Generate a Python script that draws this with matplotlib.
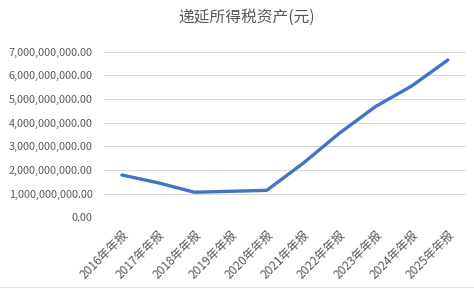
import matplotlib
matplotlib.use("Agg")
import matplotlib.pyplot as plt
from matplotlib.ticker import FuncFormatter

plt.rcParams['font.family'] = ['Noto Sans CJK SC', 'DejaVu Sans']

# Data
years = ["2016年年报", "2017年年报", "2018年年报", "2019年年报", "2020年年报",
         "2021年年报", "2022年年报", "2023年年报", "2024年年报", "2025年年报"]
deferred_tax = [1.79e9, 1.46e9, 1.06e9, 1.10e9, 1.14e9,
                2.28e9, 3.55e9, 4.68e9, 5.55e9, 6.65e9]
y_ticks = [0, 1e9, 2e9, 3e9, 4e9, 5e9, 6e9, 7e9]

TEXT = "#595959"

fig = plt.figure(figsize=(4.74, 2.89), dpi=100)
ax = fig.add_axes([0.219, 0.248, 0.764, 0.573])

x = list(range(len(years)))
ax.plot(x, deferred_tax, color="#4472C4", linewidth=2.4, solid_capstyle="round")

ax.set_xlim(-0.5, len(years) - 0.5)
ax.set_ylim(0, 7e9)
ax.set_yticks(y_ticks)
ax.yaxis.set_major_formatter(FuncFormatter(lambda v, p: f"{v:,.2f}"))
ax.set_xticks(x)
ax.set_xticklabels(years, rotation=45, ha="right", rotation_mode="anchor")

ax.grid(axis="y", color="#d9d9d9", linewidth=0.75)
ax.set_axisbelow(True)
for s in ax.spines.values():
    s.set_visible(False)
ax.tick_params(axis="both", length=0, colors=TEXT)
ax.tick_params(axis="y", pad=8, labelsize=7.8)
ax.tick_params(axis="x", pad=8, labelsize=8.6)

fig.suptitle("递延所得税资产(元)", x=0.52, y=0.97, fontsize=11.3, color=TEXT)

# faint frame line at the very bottom of the image
fig.add_artist(plt.Line2D([0, 1], [0.008, 0.008], color="#e0e0e0", linewidth=0.8))

fig.savefig("out.png", dpi=100)
